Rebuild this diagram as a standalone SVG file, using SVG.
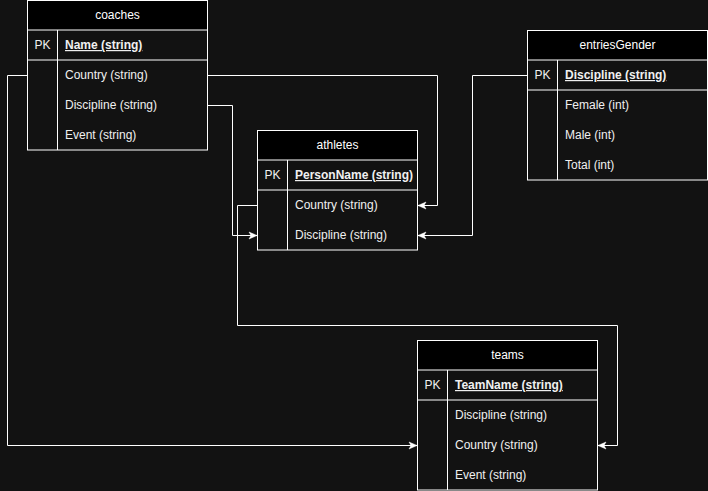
<svg xmlns="http://www.w3.org/2000/svg" width="708" height="491" viewBox="0 0 708 491">
<style>
.bg{fill:#121212}
.box{fill:#121212;stroke:#ffffff;stroke-width:1}
.hdr{fill:#000000;stroke:#ffffff;stroke-width:1}
.ln{stroke:#ffffff;stroke-width:1;fill:none}
.t{font-family:"Liberation Sans",Arial,sans-serif;font-size:12px;fill:#f0f0f0}
.h{text-anchor:middle;fill:#ffffff}
.pk{text-anchor:middle}
.u{text-decoration:underline}
.conn{stroke:#ffffff;stroke-width:1;fill:none;marker-end:url(#arr)}
</style>
<defs>
<marker id="arr" markerUnits="userSpaceOnUse" markerWidth="10" markerHeight="10" viewBox="0 0 10 10" refX="9" refY="5" orient="auto">
<path d="M1,1.5 L9,5 L1,8.5 L3,5 Z" fill="#ffffff" stroke="#ffffff" stroke-width="0.5"/>
</marker>
</defs>
<rect class="bg" x="0" y="0" width="708" height="491"/>

<g id="coaches">
<rect class="box" x="27.5" y="0.5" width="180" height="149.5"/>
<rect class="hdr" x="27.5" y="0.5" width="180" height="29.5"/>
<line class="ln" x1="27.5" y1="60" x2="207.5" y2="60"/>
<line class="ln" x1="57.5" y1="30" x2="57.5" y2="150"/>
<text class="t h" x="117.5" y="19">coaches</text>
<text class="t pk" x="42.5" y="49">PK</text>
<text class="t u" x="65" y="49" font-weight="bold">Name (string)</text>
<text class="t" x="65" y="79">Country (string)</text>
<text class="t" x="65" y="109">Discipline (string)</text>
<text class="t" x="65" y="139">Event (string)</text>
</g>

<g id="athletes">
<rect class="box" x="257.5" y="130.5" width="160" height="119.5"/>
<rect class="hdr" x="257.5" y="130.5" width="160" height="29.5"/>
<line class="ln" x1="257.5" y1="190" x2="417.5" y2="190"/>
<line class="ln" x1="287.5" y1="160" x2="287.5" y2="250"/>
<text class="t h" x="337.5" y="149">athletes</text>
<text class="t pk" x="272.5" y="179">PK</text>
<text class="t u" x="295" y="179" font-weight="bold">PersonName (string)</text>
<text class="t" x="295" y="209">Country (string)</text>
<text class="t" x="295" y="239">Discipline (string)</text>
</g>

<g id="entriesGender">
<rect class="box" x="527.5" y="30.5" width="180" height="149.5"/>
<rect class="hdr" x="527.5" y="30.5" width="180" height="29.5"/>
<line class="ln" x1="527.5" y1="90" x2="707.5" y2="90"/>
<line class="ln" x1="557.5" y1="60" x2="557.5" y2="180"/>
<text class="t h" x="617.5" y="49">entriesGender</text>
<text class="t pk" x="542.5" y="79">PK</text>
<text class="t u" x="565" y="79" font-weight="bold">Discipline (string)</text>
<text class="t" x="565" y="109">Female (int)</text>
<text class="t" x="565" y="139">Male (int)</text>
<text class="t" x="565" y="169">Total (int)</text>
</g>

<g id="teams">
<rect class="box" x="417.5" y="340.5" width="180" height="149.5"/>
<rect class="hdr" x="417.5" y="340.5" width="180" height="29.5"/>
<line class="ln" x1="417.5" y1="400" x2="597.5" y2="400"/>
<line class="ln" x1="447.5" y1="370" x2="447.5" y2="490"/>
<text class="t h" x="507.5" y="359">teams</text>
<text class="t pk" x="432.5" y="389">PK</text>
<text class="t u" x="455" y="389" font-weight="bold">TeamName (string)</text>
<text class="t" x="455" y="419">Discipline (string)</text>
<text class="t" x="455" y="449">Country (string)</text>
<text class="t" x="455" y="479">Event (string)</text>
</g>

<g id="connectors">
<path class="conn" d="M207.5,75.5 H437.5 V205.5 H418"/>
<path class="conn" d="M207.5,105.5 H232.5 V235.5 H257"/>
<path class="conn" d="M527.5,75.5 H472.5 V235.5 H418"/>
<path class="conn" d="M27.5,75.5 H7.5 V445.5 H417"/>
<path class="conn" d="M257.5,205.5 H237.5 V325.5 H617.5 V445.5 H598"/>
</g>
</svg>
